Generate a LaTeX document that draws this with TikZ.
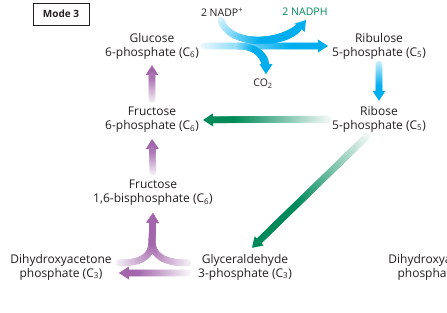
\documentclass[tikz,border=0pt]{standalone}
\usepackage{fontspec}
\setmainfont{Open Sans}
\usetikzlibrary{arrows.meta,calc,decorations.markings}
\definecolor{flowblue}{RGB}{0,174,239}
\definecolor{flowgreen}{RGB}{0,138,90}
\definecolor{flowpurple}{RGB}{163,102,172}
\definecolor{inkgray}{RGB}{35,31,32}
\tikzset{
  pathway/.style={align=center, inner sep=2pt, text=inkgray, font=\fontsize{12}{14}\selectfont},
  cofactor/.style={inner sep=1pt, text=inkgray, font=\fontsize{10.5}{12}\selectfont},
  modebox/.style={draw=inkgray, line width=0.9pt, minimum width=56pt, minimum height=22pt, inner sep=0pt, text=inkgray, font=\bfseries\fontsize{10}{12}\selectfont},
  flow/.style n args={3}{line width=6pt, draw=#1, -{Triangle[width=13pt,length=10pt,line width=0pt]},
    postaction={decorate, decoration={markings,
      mark=between positions 0 and -10pt step 0.5pt with {
        \pgfmathsetmacro\flowfrac{\pgfkeysvalueof{/pgf/decoration/mark info/distance from start}/\pgfdecoratedpathlength}
        \pgfmathtruncatemacro\flowpct{min(100,#2+(100-#2)*#3*\flowfrac)}
        \fill[#1!\flowpct!white] (0,0) circle (3.3pt);}}}}
}
\begin{document}
\begin{tikzpicture}[x=1pt,y=1pt]
  \useasboundingbox (0,0) rectangle (447,-313);
  \node[modebox] (mode) at (61,-14) {Mode 3};
  % sugars
  \node[pathway] (g6p) at (152,-46) {Glucose\\6-phosphate (C\textsubscript{6})};
  \node[pathway] (f6p) at (152,-120) {Fructose\\6-phosphate (C\textsubscript{6})};
  \node[pathway] (f16bp) at (153,-193) {Fructose\\1,6-bisphosphate (C\textsubscript{6})};
  \node[pathway] (ru5p) at (379,-46) {Ribulose\\5-phosphate (C\textsubscript{5})};
  \node[pathway] (r5p) at (379,-119) {Ribose\\5-phosphate (C\textsubscript{5})};
  \node[pathway] (dhap) at (61,-267) {Dihydroxyacetone\\phosphate (C\textsubscript{3})};
  \node[pathway] (gap) at (245,-267) {Glyceraldehyde\\3-phosphate (C\textsubscript{3})};
  \node[pathway] (dhapr) at (439,-267) {Dihydroxyacetone\\phosphate (C\textsubscript{3})};
  % cofactors
  \node[cofactor] (nadp) at (222,-12) {2 NADP\textsuperscript{+}};
  \node[cofactor, text=flowgreen] (nadph) at (305,-12) {2 NADPH};
  \node[cofactor] (co2) at (263,-84) {CO\textsubscript{2}};
  \coordinate (split) at ($(g6p.east)!0.28!(ru5p.west)$);
  \coordinate (mrg) at (152,-240);
  % oxidative branch
  \draw[flow={flowblue}{8}{1.4}] ([xshift=3pt]g6p.east) -- ([xshift=-2pt]ru5p.west);
  \draw[flow={flowblue}{15}{2}] ($(nadp.south)+(-1,-3)$) .. controls +(8,-26) and +(-22,-27) .. ($(nadph.south)+(1,-3)$);
  \draw[flow={flowblue}{35}{2.5}] (split) .. controls +(20,0) and +(0,18) .. ($(co2.north)+(3,4)$);
  \draw[flow={flowblue}{20}{1.5}] ([yshift=-3pt]ru5p.south) -- ([yshift=3pt]r5p.north);
  % rearrangements
  \draw[flow={flowgreen}{5}{1.3}] ([xshift=-2pt]r5p.west) -- ([xshift=2pt]f6p.east);
  \draw[flow={flowgreen}{5}{1.6}] ($(r5p.south)+(-12,-2)$) -- ($(gap.north)+(7,4)$);
  % gluconeogenic steps
  \draw[flow={flowpurple}{5}{1.3}] ($(gap.west)+(-8,-6)$) -- ($(dhap.east)+(5,-6)$);
  \draw[flow={flowpurple}{10}{1.6}] ($(dhap.east)+(5,4)$) .. controls +(25,0) and +(0,-15) .. (mrg) -- ([yshift=-5pt]f16bp.south);
  \draw[flow={flowpurple}{10}{1.6}] ($(gap.west)+(-8,4)$) .. controls +(-25,0) and +(0,-15) .. (mrg) -- ([yshift=-5pt]f16bp.south);
  \draw[flow={flowpurple}{10}{1.3}] ([yshift=6pt]f16bp.north) -- ([yshift=-4pt]f6p.south);
  \draw[flow={flowpurple}{10}{1.3}] ([yshift=5pt]f6p.north) -- ([yshift=-4pt]g6p.south);
\end{tikzpicture}
\end{document}
